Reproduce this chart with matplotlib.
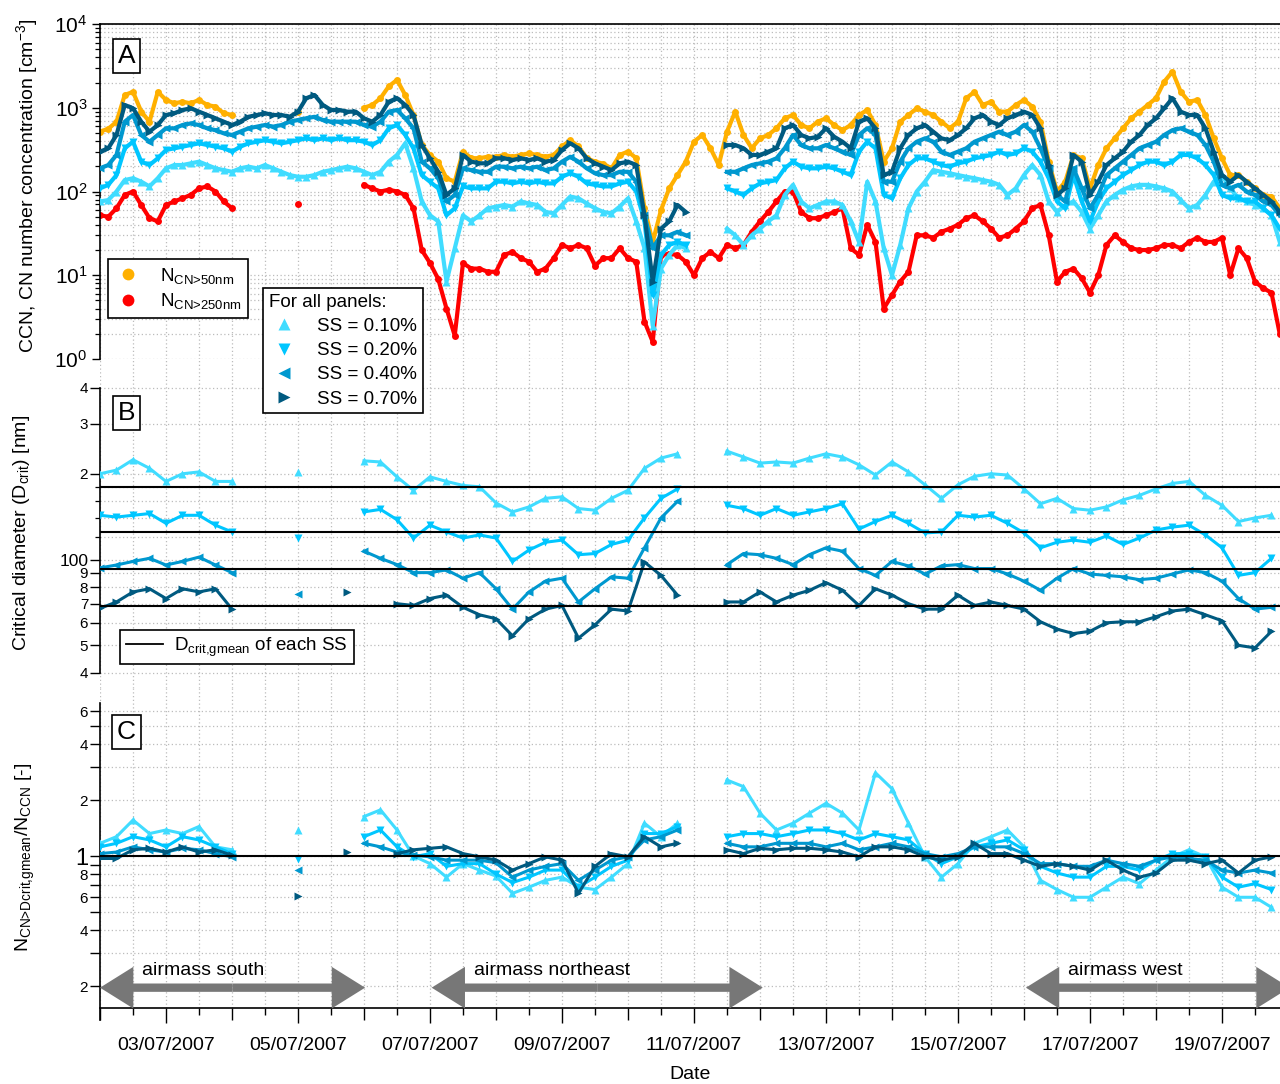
import numpy as np
import matplotlib
matplotlib.use('Agg')
import matplotlib.pyplot as plt
import matplotlib.dates as mdates
from matplotlib.ticker import (FixedLocator, NullLocator, NullFormatter,
                               LogLocator, LogFormatterMathtext, FixedFormatter)
from matplotlib.lines import Line2D

plt.rcParams['font.family'] = ['Liberation Sans', 'DejaVu Sans']
plt.rcParams['mathtext.fontset'] = 'custom'
plt.rcParams['mathtext.rm'] = 'Liberation Sans'
plt.rcParams['mathtext.it'] = 'Liberation Sans:italic'
plt.rcParams['mathtext.bf'] = 'Liberation Sans:bold'
plt.rcParams['mathtext.default'] = 'regular'

nan = np.nan
T0 = np.datetime64('2007-07-02T00:00')

# ---------------- data (hours since 02/07/2007 00:00) ----------------
hours_3h = np.arange(0, 432, 3)
hours_6h = np.arange(0, 432, 6)

# Panel A: number concentrations [cm-3], 3-hourly
n_cn50 = [520, 560, 680, 1420, 1550, 900, 680, 1550,
          1240, 1130, 1180, 1130, 1240, 1080, 1030, 860,
          820, nan, nan, nan, nan, nan, nan, nan,
          900, nan, nan, nan, nan, nan, nan, nan,
          1000, 1080, 1300, 1800, 2150, 1420, 820, 360,
          273, 227, 144, 131, 300, 250, 250, 260,
          260, 273, 260, 273, 285, 273, 260, 273,
          345, 410, 345, 250, 227, 215, 189, 273,
          300, 250, 63, 25, 60, 109, 157, 227,
          393, 473, 328, 207, 518, 900, 473, 328,
          431, 473, 568, 748, 819, 622, 568, 682,
          748, 622, 540, 622, 819, 940, 622, 227,
          328, 682, 819, 985, 898, 819, 682, 568,
          682, 1300, 1550, 1080, 1180, 898, 898, 1080,
          1240, 1030, 682, 227, 100, 131, 273, 249,
          109, 207, 328, 431, 568, 748, 898, 1080,
          1300, 2050, 2700, 1550, 1180, 1240, 819, 431,
          249, 157, 157, 131, 109, 91, 87, 63]
n_cn250 = [52, 50, 63, 91, 100, 69, 48, 44,
           69, 76, 83, 91, 109, 115, 100, 76,
           63, nan, nan, nan, nan, nan, nan, nan,
           70, nan, nan, nan, nan, nan, nan, nan,
           120, 109, 100, 105, 100, 91, 63, 20,
           14, 9, 4.0, 1.9, 14, 12, 12, 11,
           11, 17.5, 19, 16, 14.5, 11, 12, 16,
           23, 21, 23, 21, 13, 16, 16, 21,
           16, 14.5, 2.8, 1.6, 17.5, 18, 17.5, 14.5,
           10, 16, 19, 16, 23, 21, 23, 33,
           44, 57, 76, 100, 100, 57, 48, 48,
           52, 57, 63, 21, 17.5, 40, 25, 4.0,
           5.8, 8.4, 11, 30, 30, 28, 33, 36,
           40, 48, 52, 44, 36, 28, 30, 36,
           44, 63, 69, 30, 8.4, 11, 12, 9.2,
           6.2, 10, 23, 30, 25, 21, 20, 20,
           21, 23, 23, 21, 25, 28, 25, 25,
           28, 10, 21, 16, 8.4, 7, 6.2, 2.0]
ccn_ss010 = [76, 79, 100, 137, 144, 131, 115, 144,
             189, 207, 207, 217, 227, 207, 189, 180,
             172, 189, 198, 189, 207, 189, 172, 157,
             150, 150, 157, 172, 180, 189, 198, 189,
             172, 157, 172, 227, 273, 376, 189, 76,
             52, 44, 8.4, 21, 52, 44, 52, 63,
             66, 69, 66, 76, 72, 69, 57, 55,
             69, 87, 83, 72, 63, 57, 55, 66,
             83, 44, 21, 2.5, 12, 17.5, 23, 21,
             nan, nan, nan, nan, 36, 30, 23, 30,
             36, 44, 52, 91, 120, 76, 63, 69,
             76, 76, 69, 44, 25, 131, 76, 21,
             10, 23, 63, 100, 131, 180, 172, 165,
             157, 150, 144, 137, 131, 120, 91, 109,
             157, 207, 157, 76, 57, 69, 76, 57,
             36, 52, 76, 91, 105, 115, 120, 120,
             115, 109, 100, 79, 63, 69, 91, 131,
             157, 109, 83, 76, 69, 63, 52, 25]
ccn_ss020 = [109, 120, 157, 328, 393, 227, 207, 249,
             313, 328, 343, 359, 376, 359, 343, 328,
             299, 343, 376, 393, 410, 393, 376, 393,
             410, 431, 410, 431, 410, 431, 410, 410,
             393, 359, 410, 568, 622, 473, 328, 157,
             131, 109, 52, 63, 115, 109, 109, 109,
             131, 131, 125, 131, 125, 131, 125, 125,
             150, 165, 150, 125, 120, 115, 115, 125,
             131, 100, 44, 5.8, 17.5, 23, 25, 23,
             nan, nan, nan, nan, 109, 100, 91, 109,
             125, 131, 137, 189, 227, 198, 189, 189,
             198, 189, 172, 157, 299, 393, 328, 91,
             83, 144, 207, 249, 249, 227, 207, 198,
             217, 227, 249, 260, 273, 299, 273, 285,
             328, 299, 227, 144, 76, 63, 157, 76,
             44, 76, 109, 131, 157, 180, 207, 227,
             227, 207, 227, 273, 273, 249, 207, 157,
             91, 83, 83, 76, 76, 63, 52, 36]
ccn_ss040 = [189, 207, 273, 682, 819, 473, 393, 473,
             568, 568, 622, 650, 622, 568, 540, 495,
             473, 518, 568, 595, 622, 595, 622, 682,
             715, 748, 780, 715, 682, 682, 682, 682,
             622, 595, 682, 898, 940, 748, 568, 227,
             189, 144, 76, 91, 189, 180, 172, 172,
             198, 198, 189, 198, 189, 198, 180, 189,
             227, 260, 227, 189, 165, 157, 157, 172,
             172, 131, 52, 21, 30, 30, 33, 30,
             nan, nan, nan, nan, 172, 172, 189, 207,
             217, 227, 249, 328, 473, 359, 328, 328,
             359, 328, 299, 273, 473, 568, 473, 131,
             131, 227, 328, 393, 431, 393, 299, 273,
             299, 328, 393, 431, 473, 518, 473, 518,
             622, 518, 328, 189, 91, 76, 189, 109,
             63, 91, 157, 189, 227, 273, 328, 359,
             393, 473, 540, 568, 518, 473, 359, 227,
             120, 109, 120, 100, 91, 76, 69, 52]
ccn_ss070 = [299, 328, 473, 1080, 985, 682, 518, 622,
             819, 860, 940, 985, 898, 819, 748, 682,
             622, 682, 780, 819, 860, 819, 819, 780,
             898, 1300, 1420, 1080, 940, 940, 898, 898,
             748, 682, 819, 1180, 1300, 1080, 819, 359,
             249, 172, 91, 109, 273, 227, 217, 217,
             249, 249, 238, 249, 238, 249, 227, 238,
             313, 376, 328, 249, 217, 198, 180, 217,
             227, 207, 52, 8.4, 36, 44, 69, 57,
             nan, nan, nan, nan, 359, 359, 328, 273,
             273, 299, 328, 568, 622, 473, 431, 450,
             568, 450, 393, 328, 682, 748, 568, 157,
             172, 328, 473, 568, 622, 518, 431, 410,
             473, 568, 748, 819, 682, 622, 748, 819,
             898, 819, 568, 207, 91, 109, 273, 227,
             91, 131, 207, 249, 299, 393, 473, 622,
             748, 985, 1300, 898, 819, 819, 568, 299,
             157, 131, 157, 131, 109, 91, 76, 57]

# Panel B: critical diameter [nm], 6-hourly
dcrit_ss010 = [200, 206, 224, 209, 188, 200, 203, 188,
               188, nan, nan, nan, 203, nan, nan, nan,
               222, 220, 195, 175, 195, 188, 182, 180,
               158, 147, 153, 164, 166, 151, 149, 164,
               175, 209, 227, 235, nan, nan, 240, 229,
               218, 220, 218, 227, 235, 229, 215, 198,
               220, 203, 183, 164, 183, 196, 200, 198,
               177, 157, 164, 151, 149, 153, 162, 168,
               177, 185, 188, 168, 155, 136, 140, 143]
dcrit_ss020 = [143, 141, 143, 145, 134, 143, 143, 132,
               125, nan, nan, nan, 119, nan, nan, nan,
               147, 150, 138, 119, 132, 125, 119, 122,
               119, 98.5, 108, 115, 117, 104, 105, 113,
               117, 140, 164, 177, nan, nan, 155, 151,
               143, 151, 143, 147, 151, 157, 128, 136,
               143, 134, 124, 125, 143, 141, 143, 134,
               124, 110, 115, 117, 115, 121, 113, 119,
               127, 130, 132, 122, 110, 88, 90, 101]
dcrit_ss040 = [93.5, 95.7, 98.5, 101, 95.7, 98.5, 102, 95.7,
               90, nan, nan, nan, 76, nan, nan, nan,
               107, 101, 96, 90, 90, 92, 86, 90,
               79, 67, 77, 84, 86, 71, 79, 87,
               86, 110, 140, 160, nan, nan, 96, 105,
               104, 101, 96, 104, 110, 107, 93, 88,
               98.5, 95, 89, 95, 96, 93, 93, 89,
               84, 78, 86, 93, 89, 88, 87, 85,
               86, 89, 92, 90, 84, 73, 67, 68]
dcrit_ss070 = [67.4, 71, 77, 79, 73, 79, 77, 79,
               67, nan, nan, nan, nan, nan, nan, 77,
               nan, nan, 70, 69, 73, 75, 68, 64,
               62, 54, 62, 67, 69, 53, 59, 67,
               66, 98, 88, 75, nan, nan, 71, 71,
               77, 71, 75, 78, 83, 78, 69, 79,
               75, 70, 67, 67, 75, 69, 71, 69,
               67, 60.5, 57, 55, 56, 60, 60.5, 60.5,
               63, 66, 67, 64, 61, 50, 49, 56]
dcrit_gmean = [180, 125, 92.5, 68.7]

# Panel C: N_CN>Dcrit,gmean / N_CCN, 6-hourly
ratio_ss010 = [1.17, 1.27, 1.56, 1.32, 1.38, 1.32, 1.44, 1.12,
               1.08, nan, nan, nan, 1.38, nan, nan, nan,
               1.63, 1.77, 1.38, 1.0, 0.91, 0.77, 0.91, 0.84,
               0.78, 0.63, 0.68, 0.74, 0.77, 0.68, 0.66, 0.77,
               0.91, 1.5, 1.27, 1.5, nan, nan, 2.56, 2.36,
               1.70, 1.38, 1.50, 1.70, 1.92, 1.70, 1.38, 2.8,
               2.3, 1.50, 0.99, 0.77, 0.91, 1.17, 1.27, 1.38,
               1.12, 0.74, 0.66, 0.60, 0.60, 0.68, 0.77, 0.71,
               0.84, 0.99, 1.08, 0.99, 0.68, 0.60, 0.60, 0.53]
ratio_ss020 = [1.12, 1.17, 1.27, 1.22, 1.12, 1.27, 1.22, 1.12,
               1.03, nan, nan, nan, 0.96, nan, nan, nan,
               1.27, 1.38, 1.12, 0.99, 1.03, 0.88, 0.91, 0.91,
               0.80, 0.72, 0.77, 0.84, 0.84, 0.68, 0.77, 0.88,
               0.95, 1.32, 1.32, 1.44, nan, nan, 1.27, 1.32,
               1.32, 1.27, 1.32, 1.38, 1.38, 1.32, 1.22, 1.32,
               1.27, 1.22, 1.03, 0.91, 0.99, 1.12, 1.17, 1.22,
               1.08, 0.88, 0.81, 0.77, 0.77, 0.88, 0.88, 0.84,
               0.95, 1.03, 1.03, 0.99, 0.77, 0.68, 0.71, 0.66]
ratio_ss040 = [1.03, 1.05, 1.12, 1.08, 1.05, 1.10, 1.08, 1.03,
               0.99, nan, nan, nan, 0.84, nan, nan, nan,
               1.17, 1.12, 1.05, 1.01, 0.99, 0.95, 0.95, 0.95,
               0.92, 0.77, 0.84, 0.88, 0.91, 0.74, 0.84, 0.95,
               0.99, 1.22, 1.27, 1.38, nan, nan, 1.17, 1.12,
               1.12, 1.17, 1.17, 1.17, 1.12, 1.17, 1.08, 1.12,
               1.17, 1.12, 1.03, 0.99, 1.03, 1.12, 1.12, 1.12,
               1.03, 0.91, 0.91, 0.88, 0.88, 0.95, 0.91, 0.88,
               0.95, 0.99, 0.97, 0.95, 0.84, 0.81, 0.84, 0.81]
ratio_ss070 = [0.97, 0.97, 1.08, 1.10, 1.05, 1.12, 1.05, 1.08,
               1.01, nan, nan, nan, 0.61, nan, nan, 1.05,
               nan, nan, 1.03, 1.08, 1.10, 1.12, 1.03, 0.99,
               0.95, 0.84, 0.91, 0.99, 0.95, 0.63, 0.88, 1.03,
               0.99, 1.27, 1.12, 1.17, nan, nan, 1.08, 1.03,
               1.10, 1.08, 1.10, 1.10, 1.08, 1.05, 0.99, 1.12,
               1.12, 1.08, 0.99, 0.95, 0.99, 1.17, 1.03, 1.03,
               0.95, 0.88, 0.91, 0.88, 0.84, 0.95, 0.84, 0.77,
               0.81, 0.95, 0.95, 0.91, 0.95, 0.81, 0.95, 0.99]

ss_labels = ['SS = 0.10%', 'SS = 0.20%', 'SS = 0.40%', 'SS = 0.70%']
airmass_names = ['airmass south', 'airmass northeast', 'airmass west']
airmass_start_h = [0.0, 120.6, 336.7]
airmass_end_h = [96.4, 241.0, 432.6]

# ---------------- styling ----------------
c_n50, c_n250 = '#FFB000', '#FF0000'
c_ss = ['#40DCFF', '#00C6FF', '#0098CF', '#005A80']
m_ss = ['^', 'v', '<', '>']

def tt(h):
    return T0 + (np.asarray(h, dtype=float) * 60).astype('int64').astype('timedelta64[m]')

def dn(h):
    return mdates.date2num(T0 + np.timedelta64(int(round(h * 60)), 'm'))

W, H = 1280, 1084
fig = plt.figure(figsize=(W / 100, H / 100), dpi=100)
L, R = 100, 1280

def box(top, bot):
    return [L / W, 1 - bot / H, (R - L) / W, (bot - top) / H]

axA = fig.add_axes(box(24, 359))
axB = fig.add_axes(box(359, 688), sharex=axA)
axC = fig.add_axes(box(688, 1008), sharex=axA)

grid_kw = dict(color='#bcbcbc', ls=(0, (1, 2)), lw=0.9)
for ax in (axA, axB, axC):
    ax.set_yscale('log')
    ax.set_facecolor('none')
    ax.set_axisbelow(True)
    ax.spines['right'].set_visible(False)
    for s in ax.spines.values():
        s.set_linewidth(1.2)

# ---- Panel A ----
tA = tt(hours_3h)
axA.plot(tA, n_cn50, color=c_n50, marker='o', ms=5, lw=3.0, mec='none', zorder=2)
axA.plot(tA, n_cn250, color=c_n250, marker='o', ms=5, lw=3.0, mec='none', zorder=2)
for vals, c, m in zip([ccn_ss010, ccn_ss020, ccn_ss040, ccn_ss070], c_ss, m_ss):
    axA.plot(tA, vals, color=c, marker=m, ms=5.5, lw=3.0, mec='none', zorder=3)
axA.set_ylim(1, 1e4)
axA.spines['bottom'].set_visible(False)
axA.yaxis.set_major_locator(LogLocator(base=10, numticks=10))
axA.yaxis.set_minor_locator(LogLocator(base=10, subs=np.arange(2, 10), numticks=100))
axA.yaxis.set_major_formatter(LogFormatterMathtext())
axA.yaxis.set_minor_formatter(NullFormatter())
axA.tick_params(axis='y', which='major', length=6, width=1, labelsize=15, pad=3)
axA.tick_params(axis='y', which='minor', length=3.5, width=0.9)
axA.grid(True, axis='y', which='both', **grid_kw)

# ---- Panel B ----
tB = tt(hours_6h)
for vals, c, m in zip([dcrit_ss010, dcrit_ss020, dcrit_ss040, dcrit_ss070], c_ss, m_ss):
    axB.plot(tB, vals, color=c, marker=m, ms=5.5, lw=2.2, mec='none', zorder=3)
for d in dcrit_gmean:
    axB.axhline(d, color='black', lw=1.5, zorder=4)
axB.set_ylim(35.43, 505.5)
axB.spines['bottom'].set_visible(False)
axB.spines['top'].set_visible(False)
axB.spines['left'].set_bounds(40, 400)
b_ticks = [40, 50, 60, 70, 80, 90, 100, 200, 300, 400]
b_labels = ['4', '5', '6', '7', '8', '9', '100', '2', '3', '4']
axB.yaxis.set_major_locator(FixedLocator(b_ticks))
axB.yaxis.set_major_formatter(FixedFormatter(b_labels))
axB.yaxis.set_minor_locator(FixedLocator([120, 140, 160, 180]))
axB.yaxis.set_minor_formatter(NullFormatter())
axB.tick_params(axis='y', which='major', length=7, width=1, labelsize=11, pad=1.5)
axB.tick_params(axis='y', which='minor', length=3.5, width=0.9)
axB.grid(True, axis='y', which='both', **grid_kw)

# ---- Panel C ----
for vals, c, m in zip([ratio_ss010, ratio_ss020, ratio_ss040, ratio_ss070], c_ss, m_ss):
    axC.plot(tB, vals, color=c, marker=m, ms=5.5, lw=2.2, mec='none', zorder=3)
axC.axhline(1.0, color='black', lw=1.5, zorder=4)
axC.set_ylim(0.1524, 8.0)
axC.spines['top'].set_visible(False)
axC.spines['left'].set_bounds(0.131, 6.667)
c_ticks = [0.2, 0.3, 0.4, 0.5, 0.6, 0.7, 0.8, 0.9, 1, 2, 3, 4, 5, 6]
c_labels = ['2', '', '4', '', '6', '', '8', '', '1', '2', '', '4', '', '6']
axC.yaxis.set_major_locator(FixedLocator(c_ticks))
axC.yaxis.set_major_formatter(FixedFormatter(c_labels))
axC.yaxis.set_minor_locator(NullLocator())
axC.tick_params(axis='y', which='major', length=7, width=1, labelsize=11, pad=1.5)
axC.grid(True, axis='y', which='major', **grid_kw)

# airmass arrows (two filled half-arrows each, heads at both ends)
arrow_kw = dict(arrowstyle='simple,head_length=24,head_width=30,tail_width=6',
                mutation_scale=1, fc='#777777', ec='none', lw=0, shrinkA=0, shrinkB=0)
for name, h0, h1 in zip(airmass_names, airmass_start_h, airmass_end_h):
    hm = 0.5 * (h0 + h1)
    for he in (h0, h1):
        axC.annotate('', xy=(dn(he), 0.196), xytext=(dn(hm), 0.196), xycoords='data',
                     arrowprops=arrow_kw, annotation_clip=False, zorder=5)
    axC.text(dn(h0 + 15.3), 0.229, name, fontsize=14, va='baseline', ha='left', zorder=6)

# ---- x axis ----
days = list(range(2, 20))
day_nums = [mdates.date2num(np.datetime64('2007-07-%02d' % d)) for d in days]
day_labels = [('%02d/07/2007' % d) if d % 2 == 1 else '' for d in days]
axC.xaxis.set_major_locator(FixedLocator(day_nums))
axC.xaxis.set_major_formatter(FixedFormatter(day_labels))
axC.xaxis.set_minor_locator(mdates.HourLocator(byhour=[0, 12]))
axC.set_xlim(T0, T0 + np.timedelta64(int(429.1 * 60), 'm'))
axC.tick_params(axis='x', which='major', length=8.6, width=1, labelsize=14, pad=12)
axC.tick_params(axis='x', which='minor', length=5, width=1)
for ax in (axA, axB):
    ax.tick_params(axis='x', which='both', bottom=False, labelbottom=False)
for ax in (axA, axB, axC):
    ax.grid(True, axis='x', which='both', **grid_kw)
ticks = axC.xaxis.get_major_ticks(len(day_nums))
for d, tk in zip(days, ticks):
    if d % 2 == 1:
        tk.tick1line.set_markersize(10.8)
axC.set_xlabel('Date', fontsize=14, labelpad=9)

# per-label font sizes
for txt, lab in zip(axB.yaxis.get_majorticklabels(), b_labels):
    if lab == '100':
        txt.set_fontsize(12.5)
for txt, lab in zip(axC.yaxis.get_majorticklabels(), c_labels):
    if lab == '1':
        txt.set_fontsize(17)

# y labels
fig.text(27 / W, 1 - 186 / H, r'CCN, CN number concentration [cm$^{-3}$]',
         rotation=90, fontsize=14, ha='center', va='center')
fig.text(22 / W, 1 - 533 / H, r'Critical diameter (D$_{\text{crit}}$) [nm]',
         rotation=90, fontsize=14, ha='center', va='center')
fig.text(25 / W, 1 - 857 / H, r'N$_{\text{CN>Dcrit,gmean}}$/N$_{\text{CCN}}$ [-]',
         rotation=90, fontsize=14, ha='center', va='center')

# panel letters
for letter, cy in zip(['A', 'B', 'C'], [56, 413, 732]):
    fig.text(126.5 / W, 1 - cy / H, letter, fontsize=19, ha='center', va='center',
             bbox=dict(boxstyle='square,pad=0.18', fc='white', ec='black', lw=1.2))

# legends
h1 = [Line2D([], [], ls='none', marker='o', ms=8.5, color=c_n50, mec='none'),
      Line2D([], [], ls='none', marker='o', ms=8.5, color=c_n250, mec='none')]
leg1 = fig.legend(h1, [r'N$_{\text{CN>50nm}}$', r'N$_{\text{CN>250nm}}$'], loc='upper left',
                  bbox_to_anchor=(108 / W, 1 - 259 / H), fancybox=False, edgecolor='black',
                  framealpha=1, fontsize=13.5, borderpad=0.35, handletextpad=1.0,
                  labelspacing=0.3, handlelength=1.4, borderaxespad=0)
leg1.get_frame().set_linewidth(1.2)

h2 = [Line2D([], [], ls='none', marker=m, ms=8.5, color=c, mec='none')
      for c, m in zip(c_ss, m_ss)]
leg2 = fig.legend(h2, ss_labels, loc='upper left', title='For all panels:',
                  bbox_to_anchor=(263 / W, 1 - 288 / H), fancybox=False, edgecolor='black',
                  framealpha=1, fontsize=13.5, title_fontsize=13.5, alignment='left',
                  borderpad=0.3, handletextpad=1.0, labelspacing=0.38, handlelength=1.6,
                  borderaxespad=0)
leg2.get_frame().set_linewidth(1.2)

h3 = [Line2D([], [], color='black', lw=1.3)]
leg3 = fig.legend(h3, [r'D$_{\text{crit,gmean}}$ of each SS'], loc='upper left',
                  bbox_to_anchor=(120 / W, 1 - 630 / H), fancybox=False, edgecolor='black',
                  framealpha=1, fontsize=13.5, borderpad=0.3, handletextpad=0.6,
                  handlelength=2.0, borderaxespad=0)
leg3.get_frame().set_linewidth(1.2)

fig.savefig('out.png', dpi=100)
